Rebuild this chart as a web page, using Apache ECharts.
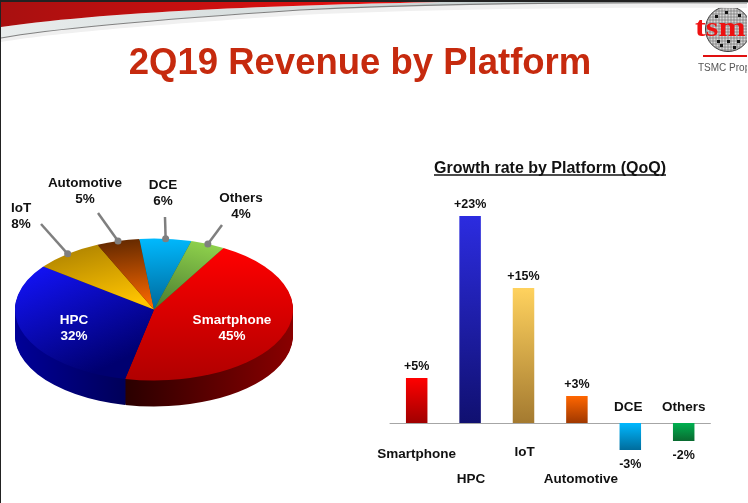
<!DOCTYPE html>
<html>
<head>
<meta charset="utf-8">
<title>2Q19 Revenue by Platform</title>
<script src="https://cdn.jsdelivr.net/npm/echarts@6/dist/echarts.min.js"></script>
<style>
html, body { margin: 0; padding: 0; background: #fff; }
#chart { width: 748px; height: 503px; }
</style>
</head>
<body>
<div id="chart"></div>
<script>
const platforms = ['Smartphone', 'HPC', 'IoT', 'Automotive', 'DCE', 'Others'];
const revenueShare = [45, 32, 8, 5, 6, 4];
const growthRate = [5, 23, 15, 3, -3, -2];

const FONT = '"Liberation Sans", Arial, sans-serif';
const grad = function (x, y, x2, y2, from, to) {
    return new echarts.graphic.LinearGradient(x, y, x2, y2, [
        { offset: 0, color: from },
        { offset: 1, color: to }
    ]);
};

// pie is a tilted disc, drawn as squashed sectors over a stack of dark copies
const pie = { cx: 154, cy: 309.5, r: 139, tilt: 71 / 139, depth: 26, firstAngle: 30 };
const sliceFill = [
    grad(0, 0, 0, 1, '#ff0000', '#b00000'),
    grad(0, 0, 1, 0.7, '#1414ff', '#000070'),
    grad(0, 0, 0.6, 1, '#a67c00', '#ffc400'),
    grad(0, 0, 0.6, 1, '#5c2600', '#ff6a00'),
    grad(0, 0, 0.3, 1, '#00baff', '#00689a'),
    grad(1, 0, 0, 1, '#94d84e', '#4a7a30')
];
const sideFill = [
    grad(0, 0, 1, 0, '#2a0000', '#8a0000'),
    grad(0, 0, 1, 0, '#000098', '#000048'),
    '#5a4000', '#4a2000', '#00506a', '#3a5a20'
];
const pieText = [
    { x: 232, y: 328, fill: '#fff' },
    { x: 74, y: 328, fill: '#fff' },
    { x: 21, y: 216, fill: '#111' },
    { x: 85, y: 191, fill: '#111' },
    { x: 163, y: 193, fill: '#111' },
    { x: 241, y: 206, fill: '#111' }
];
const leaderEnd = [null, null, [41, 224], [98, 213], [165, 217], [222, 225]];

// clockwise from the top of the disc, in degrees
function sliceAngles(index) {
    const total = revenueShare.reduce((a, b) => a + b, 0);
    const before = revenueShare.slice(0, index).reduce((a, b) => a + b, 0);
    const start = pie.firstAngle + before / total * 360;
    return [start, start + revenueShare[index] / total * 360];
}

function sector(index, dy, fill) {
    const a = sliceAngles(index);
    return {
        type: 'sector',
        x: pie.cx,
        y: pie.cy + dy,
        scaleY: pie.tilt,
        shape: {
            cx: 0, cy: 0, r0: 0, r: pie.r,
            startAngle: (a[0] - 90) * Math.PI / 180,
            endAngle: (a[1] - 90) * Math.PI / 180,
            clockwise: true
        },
        style: { fill: fill }
    };
}

// one item: the layers must go deepest first across all slices
function renderSide() {
    const children = [];
    for (let d = pie.depth; d > 0; d--) {
        for (let i = 0; i < revenueShare.length; i++) {
            children.push(sector(i, d, sideFill[i]));
        }
    }
    return { type: 'group', children: children };
}

function renderTop(params) {
    return sector(params.dataIndex, 0, sliceFill[params.dataIndex]);
}

function renderPieLabel(params, api) {
    const i = params.dataIndex;
    const spot = pieText[i];
    const children = [];
    if (leaderEnd[i]) {
        const a = sliceAngles(i);
        const mid = (a[0] + a[1]) / 2 * Math.PI / 180;
        const dotX = pie.cx + pie.r * Math.sin(mid);
        const dotY = pie.cy - pie.r * pie.tilt * Math.cos(mid);
        children.push({
            type: 'line',
            shape: { x1: leaderEnd[i][0], y1: leaderEnd[i][1], x2: dotX, y2: dotY },
            style: { stroke: '#7f7f7f', lineWidth: 2.5 }
        }, {
            type: 'circle',
            shape: { cx: dotX, cy: dotY, r: 3.5 },
            style: { fill: '#7f7f7f' }
        });
    }
    children.push({
        type: 'text',
        x: spot.x,
        y: spot.y,
        style: {
            text: platforms[i] + '\n' + api.value(0) + '%',
            fill: spot.fill,
            font: 'bold 13.5px ' + FONT,
            lineHeight: 16,
            align: 'center',
            verticalAlign: 'middle'
        }
    });
    return { type: 'group', children: children };
}

// bar chart names sit staggered around the axis
const barFill = [
    ['#ff0000', '#a00000'],
    ['#2c2ce0', '#101070'],
    ['#ffd25e', '#a47a30'],
    ['#ff6600', '#a03800'],
    ['#00b8ff', '#006c9c'],
    ['#00b050', '#0a6a30']
];
const nameOffset = [[0, 31], [1, 56], [1, 29], [4, 56], [-2, -16], [0, -16]];

function renderBarName(params, api) {
    const i = params.dataIndex;
    const p = api.coord([i, 0]);
    return {
        type: 'text',
        x: p[0] + nameOffset[i][0],
        y: p[1] + nameOffset[i][1],
        style: {
            text: platforms[i],
            fill: '#111',
            font: 'bold 13.5px ' + FONT,
            align: 'center',
            verticalAlign: 'middle'
        }
    };
}

// slide furniture behind the charts
function renderHeader() {
    return {
        type: 'group',
        children: [{
            type: 'path',
            shape: { pathData: 'M1 38 C60 27 180 18 300 10 C430 4 600 2 748 3 L748 8 C600 7 430 9 300 15 C180 23 60 32 1 42 Z' },
            style: { fill: '#f0f0f0' }
        }, {
            type: 'path',
            shape: { pathData: 'M1 27 C120 10 300 5 440 2 L748 2 L748 3 C600 2 430 4 300 10 C180 18 60 27 1 38 Z' },
            style: { fill: grad(0, 0, 1, 0, '#e8ecec', '#b8c4c4') }
        }, {
            type: 'path',
            shape: { pathData: 'M1 2 L440 2 C300 5 120 10 1 27 Z' },
            style: { fill: grad(0, 0, 1, 0, '#a81010', '#f01010') }
        }, {
            type: 'path',
            shape: { pathData: 'M1 38 C60 27 180 18 300 10 C430 4 600 2 748 3' },
            style: { fill: 'none', stroke: '#808080', lineWidth: 1.2 }
        }]
    };
}

// wafer behind the logo letters: a hatched disc with a few dark dies
const wafer = { cx: 728, cy: 29, r: 22.5 };
const darkDies = [[-13, -14], [-3, -18], [10, -15], [-11, 11], [-1, 11], [9, 11], [-8, 15], [5, 17]];

function waferGraphics() {
    const items = [{
        type: 'circle', z: 1,
        shape: { cx: wafer.cx, cy: wafer.cy, r: wafer.r },
        style: { fill: '#d8d8d8', stroke: '#333', lineWidth: 1 }
    }];
    for (let o = -21; o <= 21; o += 3) {
        const half = Math.sqrt(wafer.r * wafer.r - o * o);
        items.push({
            type: 'line', z: 1,
            shape: { x1: wafer.cx - half, y1: wafer.cy + o, x2: wafer.cx + half, y2: wafer.cy + o },
            style: { stroke: '#666', lineWidth: 0.6 }
        }, {
            type: 'line', z: 1,
            shape: { x1: wafer.cx + o, y1: wafer.cy - half, x2: wafer.cx + o, y2: wafer.cy + half },
            style: { stroke: '#666', lineWidth: 0.6 }
        });
    }
    darkDies.forEach(function (d) {
        items.push({
            type: 'rect', z: 1,
            shape: { x: wafer.cx + d[0], y: wafer.cy + d[1], width: 3, height: 3 },
            style: { fill: '#111' }
        });
    });
    return items;
}

const chart = echarts.init(document.getElementById('chart'));

chart.setOption({
    animation: false,
    backgroundColor: '#fff',
    title: [{
        text: '2Q19 Revenue by Platform',
        left: 355, top: 40, textAlign: 'center',
        textStyle: { color: '#c62a0e', fontFamily: FONT, fontWeight: 'bold', fontSize: 36.5 }
    }, {
        text: 'Growth rate by Platform (QoQ)',
        left: 545, top: 156, textAlign: 'center',
        textStyle: { color: '#111', fontFamily: FONT, fontWeight: 'bold', fontSize: 16 }
    }],
    grid: { left: 390, top: 207, width: 320.4, height: 252 },
    xAxis: {
        type: 'category',
        data: platforms,
        axisTick: { show: false },
        axisLabel: { show: false },
        axisLine: { lineStyle: { color: '#a6a6a6', width: 1 } }
    },
    yAxis: { type: 'value', min: -4, max: 24, show: false, splitLine: { show: false } },
    series: [{
        type: 'custom',
        coordinateSystem: 'none',
        silent: true,
        data: [0],
        renderItem: renderHeader
    }, {
        type: 'custom',
        coordinateSystem: 'none',
        silent: true,
        data: [0],
        renderItem: renderSide
    }, {
        type: 'custom',
        coordinateSystem: 'none',
        silent: true,
        data: revenueShare,
        renderItem: renderTop
    }, {
        type: 'custom',
        coordinateSystem: 'none',
        silent: true,
        data: revenueShare,
        renderItem: renderPieLabel
    }, {
        type: 'bar',
        barWidth: 21.5,
        silent: true,
        data: growthRate.map(function (value, i) {
            return {
                value: value,
                itemStyle: { color: grad(0, 0, 0, 1, barFill[i][0], barFill[i][1]) },
                label: value > 0 ? { position: 'top' } : { position: 'bottom', distance: 8 }
            };
        }),
        label: {
            show: true,
            distance: 5,
            color: '#111',
            fontFamily: FONT,
            fontWeight: 'bold',
            fontSize: 12.5,
            formatter: function (params) {
                return (params.value > 0 ? '+' : '') + params.value + '%';
            }
        }
    }, {
        type: 'custom',
        silent: true,
        data: platforms.map(function (name, i) { return [i]; }),
        encode: { x: 0 },
        renderItem: renderBarName
    }],
    graphic: [
        { type: 'rect', z: 0, shape: { x: 0, y: 0, width: 748, height: 2 }, style: { fill: '#222' } },
        { type: 'rect', z: 0, shape: { x: 0, y: 0, width: 1, height: 503 }, style: { fill: '#222' } },
        // underline of the bar chart heading
        { type: 'line', z: 1, shape: { x1: 434, y1: 175, x2: 666, y2: 175 }, style: { stroke: '#111', lineWidth: 1.3 } }
    ].concat(waferGraphics(), [
        { type: 'text', z: 2, x: 695, y: 43, scaleX: 1.2, style: { x: 0, y: 0, text: 'tsm', fill: '#ee1111', font: 'bold 27px "Liberation Serif", serif', verticalAlign: 'bottom' } },
        { type: 'line', z: 1, shape: { x1: 703, y1: 56, x2: 748, y2: 56 }, style: { stroke: '#e01010', lineWidth: 2 } },
        { type: 'text', z: 1, style: { x: 698, y: 63, text: 'TSMC Property', fill: '#555', font: '10px ' + FONT } },
        { type: 'rect', z: 3, shape: { x: 747, y: 3, width: 1, height: 70 }, style: { fill: '#fff' } }
    ])
});
</script>
</body>
</html>
